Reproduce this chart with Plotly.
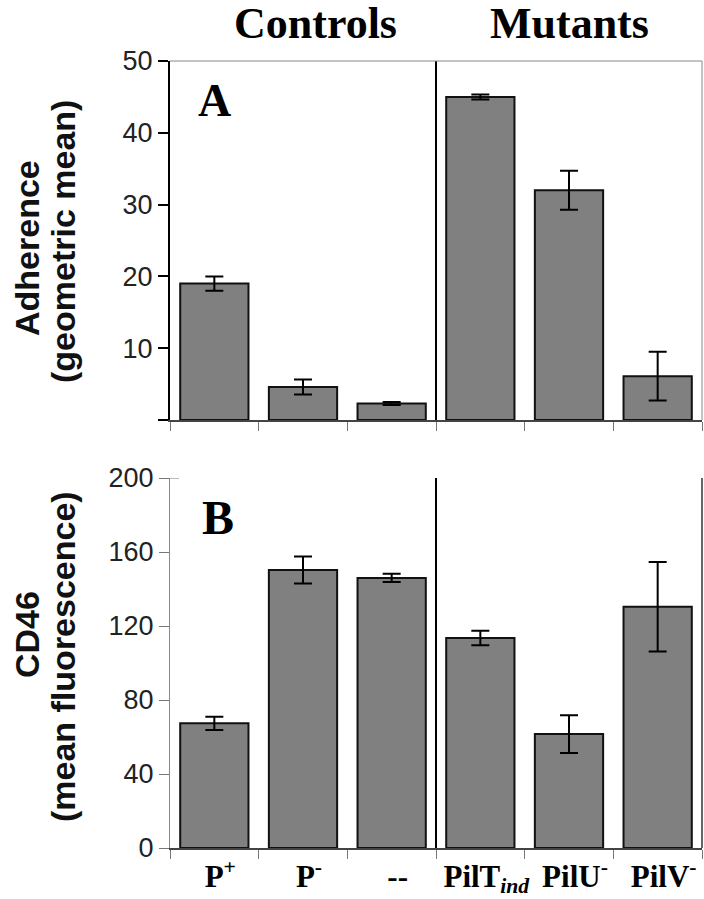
import plotly.graph_objects as go

# ---- data ----
categories = ["P<sup>+</sup>", "P<sup>-</sup>", "--", "PilT<sub><i>ind</i></sub>",
              "PilU<sup>-</sup>", "PilV<sup>-</sup>"]
adherence = [19.0, 4.6, 2.3, 45.0, 32.0, 6.1]
adherence_err = [1.0, 1.05, 0.2, 0.35, 2.7, 3.4]
cd46 = [67.4, 150.3, 146.0, 113.5, 61.6, 130.4]
cd46_err = [3.6, 7.3, 2.2, 3.9, 10.2, 24.2]
adh_tickvals = [0, 10, 20, 30, 40, 50]
adh_ticktext = ["", "10", "20", "30", "40", "50"]
cd46_tickvals = [0, 40, 80, 120, 160, 200]
cd46_ticktext = ["0", "40", "80", "120", "160", "200"]
group_labels = ["Controls", "Mutants"]
panel_labels = ["A", "B"]

W, H = 704, 899
def px(x):
    return x / W
def py(y):
    return 1 - y / H

BAR = "#808080"
SANS = "Liberation Sans, Arial, sans-serif"
SERIF = "Liberation Serif, Times New Roman, serif"

fig = go.Figure()
fig.add_trace(go.Bar(
    x=categories, y=adherence, xaxis="x", yaxis="y",
    marker=dict(color=BAR, line=dict(color="#111111", width=2)),
    error_y=dict(type="data", array=adherence_err, color="black", thickness=2, width=9),
    showlegend=False))
fig.add_trace(go.Bar(
    x=categories, y=cd46, xaxis="x2", yaxis="y2",
    marker=dict(color=BAR, line=dict(color="#111111", width=2)),
    error_y=dict(type="data", array=cd46_err, color="black", thickness=2, width=9),
    showlegend=False))

xdom = [px(170), px(702)]
top_dom = [py(420), py(61)]
bot_dom = [py(848), py(478)]

common_x = dict(type="category", tickson="boundaries", ticks="outside", ticklen=9,
                tickcolor="#777777", tickwidth=1, showline=True, linecolor="#444444",
                linewidth=1.5, showgrid=False, zeroline=False, domain=xdom,
                categoryorder="array", categoryarray=categories,
                automargin=False, tickangle=0)

fig.update_layout(
    width=W, height=H, autosize=False,
    margin=dict(l=0, r=0, t=0, b=0, pad=0, autoexpand=False),
    paper_bgcolor="white", plot_bgcolor="white",
    bargap=0.23,
    xaxis=dict(**common_x, anchor="y", showticklabels=False),
    yaxis=dict(domain=top_dom, anchor="x", range=[0, 50], tickvals=adh_tickvals,
               ticktext=adh_ticktext, ticks="outside", ticklen=10, tickwidth=1.5,
               tickcolor="black", showline=True, linecolor="black", linewidth=2,
               showgrid=False, zeroline=False, automargin=False,
               tickfont=dict(family=SANS, size=27, color="#222222")),
    xaxis2=dict(**common_x, anchor="y2", showticklabels=True, ticklabelshift=6,
                tickfont=dict(family=SERIF, size=31, color="black", weight="bold")),
    yaxis2=dict(domain=bot_dom, anchor="x2", range=[0, 200], tickvals=cd46_tickvals,
                ticktext=cd46_ticktext, ticks="outside", ticklen=10, tickwidth=1,
                tickcolor="#777777", showline=True, linecolor="#888888", linewidth=1,
                showgrid=False, zeroline=False, automargin=False,
                tickfont=dict(family=SANS, size=27, color="#222222")),
)

shapes = []
# separators
shapes.append(dict(type="line", xref="x", yref="y domain", x0=2.5, x1=2.5, y0=0, y1=1,
                   line=dict(color="black", width=2)))
shapes.append(dict(type="line", xref="x2", yref="y2 domain", x0=2.5, x1=2.5, y0=0, y1=1,
                   line=dict(color="black", width=2)))
# top panel frame
shapes.append(dict(type="line", xref="x domain", yref="y domain", x0=0, x1=1, y0=1, y1=1,
                   line=dict(color="#888888", width=1)))
shapes.append(dict(type="line", xref="x domain", yref="y domain", x0=1, x1=1, y0=0, y1=1,
                   line=dict(color="#888888", width=1)))
# bottom panel right border
shapes.append(dict(type="line", xref="x2 domain", yref="y2 domain", x0=1, x1=1, y0=0, y1=1,
                   line=dict(color="#333333", width=1.5)))
# crossing top tick on bottom y axis
shapes.append(dict(type="line", xref="paper", yref="y2", x0=px(170), x1=px(179),
                   y0=cd46_tickvals[-1], y1=cd46_tickvals[-1],
                   line=dict(color="#777777", width=1)))
fig.update_layout(shapes=shapes)

def add_text(txt, x, y, size, family, angle=0, color="black"):
    return dict(text=txt, x=px(x), y=py(y), xref="paper", yref="paper",
                xanchor="center", yanchor="middle", textangle=angle, showarrow=False,
                font=dict(family=family, size=size, color=color, weight="bold"))

ann = [
    add_text(group_labels[0], 315, 24, 44, SERIF),
    add_text(group_labels[1], 569, 24, 44, SERIF),
    add_text(panel_labels[0], 214, 100, 46, SERIF),
    add_text(panel_labels[1], 218, 517, 48, SERIF),
]
for txt, xx, yy in [("Adherence", 27, 248), ("(geometric mean)", 63, 242),
                    ("CD46", 27, 635), ("(mean fluorescence)", 63, 657)]:
    ann.append(add_text(txt, xx, yy, 34, SANS, angle=-90, color="#111111"))
fig.update_layout(annotations=ann)

fig.write_html("out.html", config={"displayModeBar": False},
               post_script="document.body.style.margin='0px';")
